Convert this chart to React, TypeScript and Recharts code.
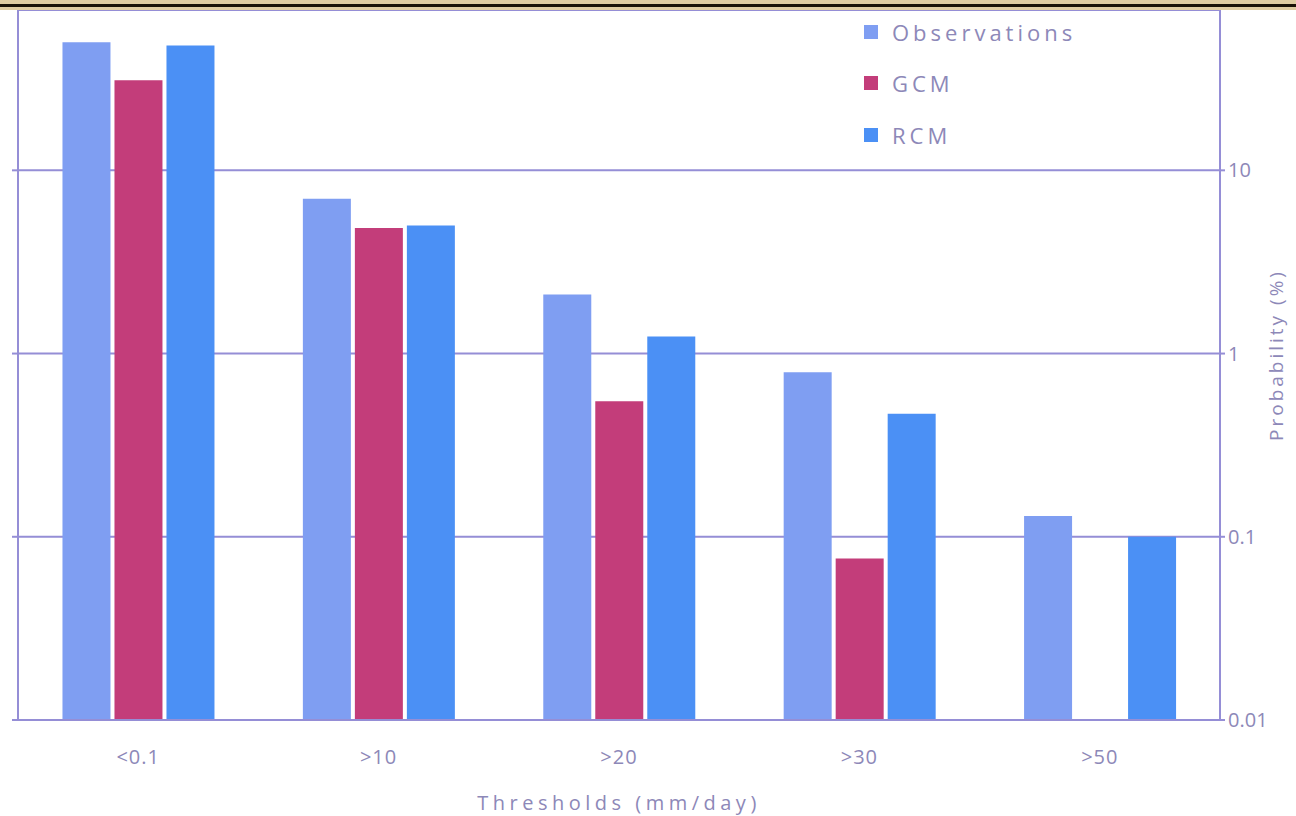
import { Bar, BarChart, CartesianGrid, Legend, XAxis, YAxis } from "recharts";

const categories = ["<0.1", ">10", ">20", ">30", ">50"];
const observations = [50, 7, 2.1, 0.79, 0.13];
const gcm = [31, 4.85, 0.55, 0.076, null];
const rcm = [48, 5.0, 1.24, 0.47, 0.1];
const probabilityTicks = [0.01, 0.1, 1, 10];

const OBS = "#7f9ef2";
const GCM_COLOR = "#c33d7a";
const RCM_COLOR = "#4b90f5";
const AXIS = "#958ed6";
const TEXT = "#8d88b8";
const FONT = "'Open Sans', 'DejaVu Sans', sans-serif";

const data = categories.map((c, i) => ({
  category: c,
  Observations: observations[i],
  GCM: gcm[i],
  RCM: rcm[i],
}));

const legendItems = [
  { name: "Observations", color: OBS },
  { name: "GCM", color: GCM_COLOR },
  { name: "RCM", color: RCM_COLOR },
];

function renderLegend() {
  return (
    <div style={{ fontFamily: FONT }}>
      {legendItems.map((item) => (
        <div
          key={item.name}
          style={{ display: "flex", alignItems: "center", height: 51.5 }}
        >
          <span
            style={{
              display: "inline-block",
              width: 14,
              height: 14,
              background: item.color,
              marginRight: 14,
            }}
          />
          <span style={{ color: TEXT, fontSize: 22, letterSpacing: 4 }}>{item.name}</span>
        </div>
      ))}
    </div>
  );
}

// rotated axis title on the right, centred on the plot height
function ProbabilityLabel(props: any) {
  const { viewBox } = props;
  const x = viewBox.x + viewBox.width - 20;
  const y = viewBox.y + viewBox.height / 2 - 10;
  return (
    <text
      x={x}
      y={y}
      transform={`rotate(-90, ${x}, ${y})`}
      textAnchor="middle"
      dominantBaseline="central"
      fill={TEXT}
      fontSize={19}
      fontFamily={FONT}
      letterSpacing={3}
    >
      Probability (%)
    </text>
  );
}

export default function App() {
  return (
    <div
      style={{
        position: "absolute",
        left: 0,
        top: 0,
        width: 1296,
        height: 816,
        background: "#fff",
        overflow: "hidden",
      }}
    >
      <BarChart
        width={1296}
        height={816}
        data={data}
        margin={{ top: 10, right: 0, bottom: 0, left: 0 }}
        barCategoryGap="18.5%"
        barGap={4}
      >
        <CartesianGrid
          yAxisId="right"
          vertical={false}
          stroke={AXIS}
          strokeWidth={2}
        />
        <XAxis
          dataKey="category"
          height={96}
          tickLine={false}
          tickSize={0}
          tickMargin={30}
          axisLine={{ stroke: AXIS, strokeWidth: 2 }}
          tick={{ fill: TEXT, fontSize: 20, fontFamily: FONT, letterSpacing: 1 }}
          label={{
            value: "Thresholds (mm/day)",
            position: "insideBottom",
            offset: 6,
            fill: TEXT,
            fontSize: 20,
            fontFamily: FONT,
            letterSpacing: 4.5,
          }}
        />
        <YAxis
          yAxisId="left"
          orientation="left"
          scale="log"
          domain={[0.01, 75]}
          allowDataOverflow
          ticks={probabilityTicks}
          width={18}
          tickSize={6}
          tickFormatter={() => ""}
          tickLine={{ stroke: AXIS, strokeWidth: 2 }}
          axisLine={{ stroke: AXIS, strokeWidth: 2 }}
        />
        <YAxis
          yAxisId="right"
          orientation="right"
          scale="log"
          domain={[0.01, 75]}
          allowDataOverflow
          ticks={probabilityTicks}
          width={76}
          tickSize={5}
          tickMargin={3}
          tickFormatter={(v: number) => String(v)}
          tickLine={{ stroke: AXIS, strokeWidth: 2 }}
          axisLine={{ stroke: AXIS, strokeWidth: 2 }}
          tick={{ fill: TEXT, fontSize: 20, fontFamily: FONT }}
          label={ProbabilityLabel}
        />
        <Legend
          layout="vertical"
          align="center"
          verticalAlign="middle"
          content={renderLegend}
          wrapperStyle={{ left: 864, top: 6, width: 260 }}
        />
        <Bar yAxisId="right" dataKey="Observations" fill={OBS} isAnimationActive={false} />
        <Bar yAxisId="right" dataKey="GCM" fill={GCM_COLOR} isAnimationActive={false} />
        <Bar yAxisId="right" dataKey="RCM" fill={RCM_COLOR} isAnimationActive={false} />
      </BarChart>
      <div
        style={{
          position: "absolute",
          left: 0,
          top: 0,
          width: 1296,
          height: 10,
          background: "#dfcca2",
        }}
      >
        <div style={{ position: "absolute", left: 0, top: 4, width: 1296, height: 3, background: "#1a1208" }} />
      </div>
    </div>
  );
}
